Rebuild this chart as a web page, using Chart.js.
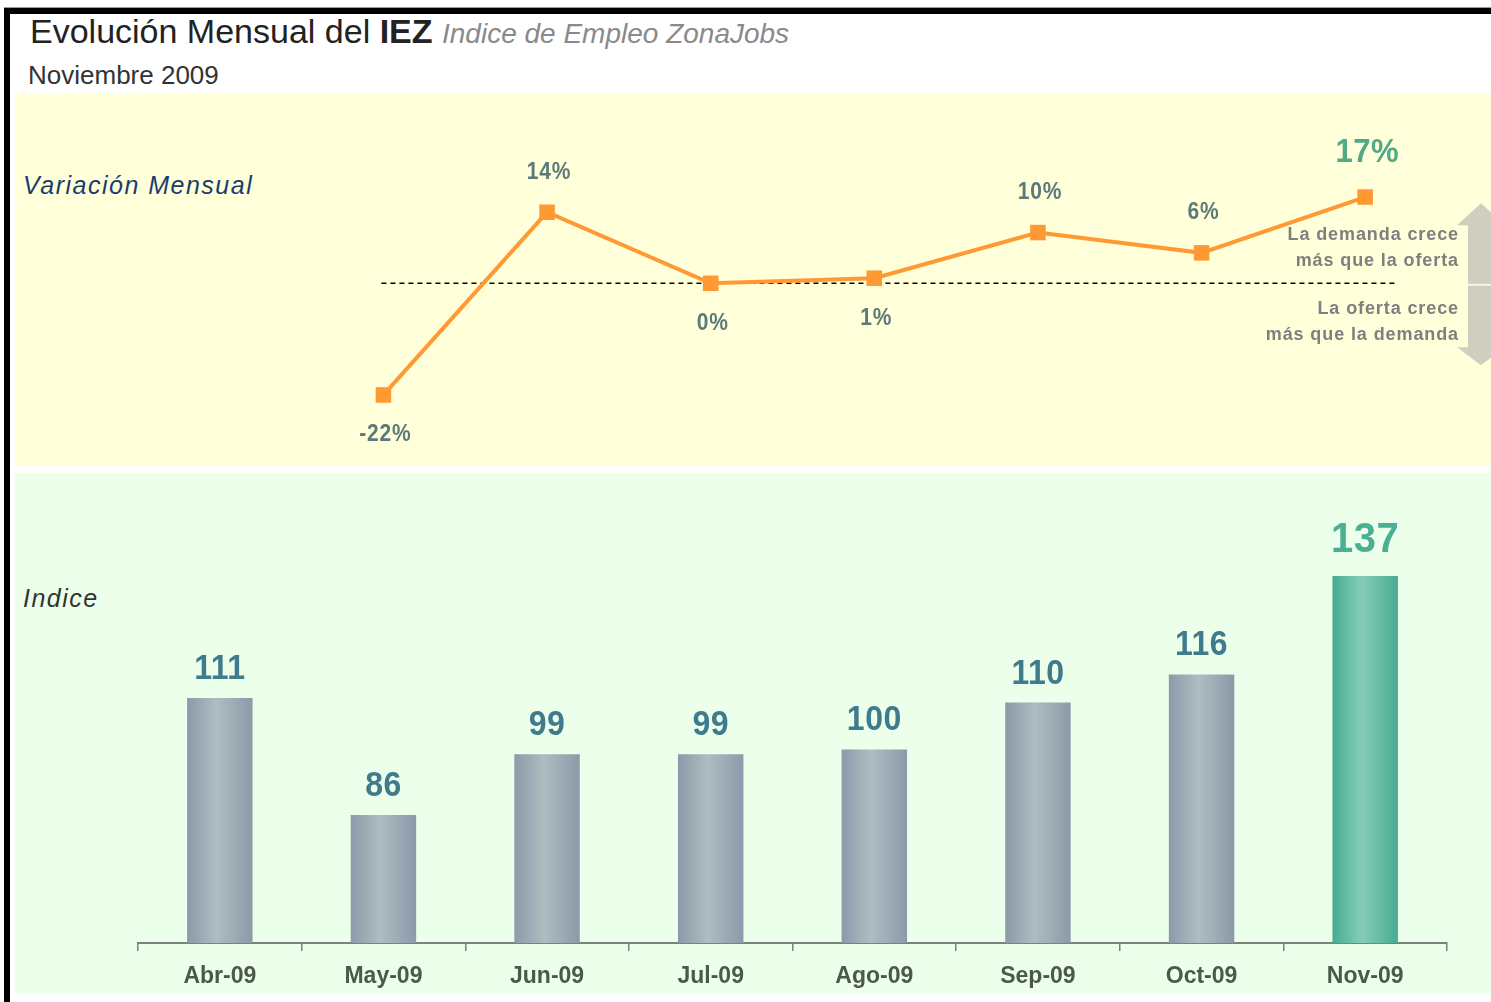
<!DOCTYPE html>
<html>
<head>
<meta charset="utf-8">
<script src="https://cdn.jsdelivr.net/npm/chart.js@4.4.0/dist/chart.umd.min.js"></script>
<style>
html,body{margin:0;padding:0;background:#fff;width:1491px;height:1002px;overflow:hidden;font-family:"Liberation Sans",Arial,sans-serif;}
.abs{position:absolute;white-space:nowrap;line-height:1;}
#topline{left:4px;top:7px;width:1487px;height:1px;background:#9a9a9a}
#topbar{left:4px;top:8px;width:1487px;height:6px;background:#000}
#leftbar{left:4px;top:8px;width:6px;height:994px;background:#000}
#yellow{left:15px;top:93px;width:1476px;height:373px;background:#FFFFDA}
#green{left:15px;top:473px;width:1476px;height:520px;background:#EBFFEB}
#title{left:30px;top:14px;font-size:34px;color:#222;}
#title b{font-weight:bold;}
#title i{font-size:28px;color:#8a8a8a;}
#sub{left:28px;top:62px;font-size:26px;color:#333;}
#varlab{left:23px;top:173px;font-size:25px;font-style:italic;color:#1A3D6E;letter-spacing:1.5px;}
#idxlab{left:23px;top:586px;font-size:25px;font-style:italic;color:#333;letter-spacing:1.5px;}
.note{right:32px;text-align:right;font-size:18px;font-weight:bold;color:#7f7f7f;letter-spacing:0.9px;line-height:26px;}
#wrapTop{left:0;top:93px;width:1491px;height:373px;}
#wrapBot{left:0;top:473px;width:1491px;height:520px;}
</style>
</head>
<body>
<div class="abs" id="yellow"></div>
<div class="abs" id="green"></div>
<div class="abs" id="topline"></div>
<div class="abs" id="topbar"></div>
<div class="abs" id="leftbar"></div>
<div class="abs" id="title">Evolución Mensual del <b>IEZ</b> <i>Indice de Empleo ZonaJobs</i></div>
<div class="abs" id="sub">Noviembre 2009</div>
<div class="abs" id="varlab">Variación Mensual</div>
<div class="abs" id="idxlab">Indice</div>
<div class="abs" id="wrapTop"><canvas id="cTop" width="1491" height="373"></canvas></div>
<div class="abs" id="wrapBot"><canvas id="cBot" width="1491" height="520"></canvas></div>
<div class="abs note" style="top:221px;">La demanda crece<br>más que la oferta</div>
<div class="abs note" style="top:295px;">La oferta crece<br>más que la demanda</div>
<script>
// ---- data ----
const months = ['Abr-09','May-09','Jun-09','Jul-09','Ago-09','Sep-09','Oct-09','Nov-09'];
const indexValues = [111, 86, 99, 99, 100, 110, 116, 137];
const changeMonths = ['May-09','Jun-09','Jul-09','Ago-09','Sep-09','Oct-09','Nov-09'];
const monthlyChange = [-22, 14, 0, 1, 10, 6, 17];

// ---- style ----
const highlightIndex = months.length - 1;
const lineLabelSide = ['below','above','below','below','above','above','above'];
const FONT = '"Liberation Sans", Arial, sans-serif';
const BAR_PCT = 0.4;

const lineData = months.map(m => {
  const k = changeMonths.indexOf(m);
  return k >= 0 ? monthlyChange[k] : null;
});

function drawStretched(ctx, text, x, y, sy) {
  ctx.save();
  ctx.translate(x, y);
  ctx.scale(1, sy);
  ctx.fillText(text, 0, 0);
  ctx.restore();
}

const topDecor = {
  id: 'topDecor',
  beforeDatasetsDraw(chart) {
    const ctx = chart.ctx, x = chart.scales.x, y = chart.scales.y;
    const yz = y.getPixelForValue(0);
    const step = x.getPixelForValue(1) - x.getPixelForValue(0);
    ctx.save();
    const cx = 1481;
    ctx.fillStyle = '#CFCFC0';
    ctx.beginPath();
    ctx.moveTo(cx, yz - 80);
    ctx.lineTo(cx + 24, yz - 58);
    ctx.lineTo(cx + 13, yz - 58);
    ctx.lineTo(cx + 13, yz + 64);
    ctx.lineTo(cx + 24, yz + 64);
    ctx.lineTo(cx, yz + 82);
    ctx.lineTo(cx - 24, yz + 64);
    ctx.lineTo(cx - 13, yz + 64);
    ctx.lineTo(cx - 13, yz - 58);
    ctx.lineTo(cx - 24, yz - 58);
    ctx.closePath();
    ctx.fill();
    ctx.strokeStyle = '#F4F4E4';
    ctx.lineWidth = 2;
    ctx.beginPath();
    ctx.moveTo(cx - 13, yz + 1.5); ctx.lineTo(1491, yz + 1.5);
    ctx.stroke();
    ctx.strokeStyle = '#000';
    ctx.lineWidth = 1.5;
    ctx.setLineDash([5, 4]);
    ctx.beginPath();
    const firstIdx = lineData.findIndex(v => v !== null);
    ctx.moveTo(x.getPixelForValue(firstIdx) - 2, yz);
    ctx.lineTo(x.getPixelForValue(months.length - 1) + step * 0.2, yz);
    ctx.stroke();
    ctx.restore();
  },
  afterDatasetsDraw(chart) {
    const ctx = chart.ctx;
    const meta = chart.getDatasetMeta(0);
    ctx.save();
    ctx.textAlign = 'center';
    ctx.textBaseline = 'middle';
    changeMonths.forEach((m, k) => {
      const i = months.indexOf(m);
      const pt = meta.data[i];
      const hl = i === highlightIndex;
      ctx.font = 'bold ' + (hl ? 31 : 21) + 'px ' + FONT;
      ctx.letterSpacing = hl ? '0.5px' : '0.8px';
      ctx.fillStyle = hl ? '#52A987' : '#5C7A7A';
      const off = hl ? 44 : 40;
      const yy = lineLabelSide[k] === 'above' ? pt.y - off : pt.y + off;
      drawStretched(ctx, monthlyChange[k] + '%', pt.x + 2, yy, 1.1);
    });
    ctx.restore();
  }
};

function barFill(context) {
  const chart = context.chart;
  const i = context.dataIndex;
  const hl = i === highlightIndex;
  const c = hl ? ['#48AB91', '#84CDB8', '#48AB91'] : ['#8C99AA', '#AEBDC0', '#8C99AA'];
  const xs = chart.scales && chart.scales.x;
  if (!xs || i === undefined) return c[0];
  const cx = xs.getPixelForValue(i);
  const half = (xs.width / months.length) * BAR_PCT / 2;
  if (!isFinite(cx) || !isFinite(half) || half <= 0) return c[0];
  const g = chart.ctx.createLinearGradient(cx - half, 0, cx + half, 0);
  g.addColorStop(0, c[0]); g.addColorStop(0.45, c[1]); g.addColorStop(1, c[2]);
  return g;
}

const barDecor = {
  id: 'barDecor',
  afterDatasetsDraw(chart) {
    const ctx = chart.ctx;
    ctx.save();
    ctx.textAlign = 'center';
    ctx.textBaseline = 'alphabetic';
    chart.getDatasetMeta(0).data.forEach((bar, i) => {
      const hl = i === highlightIndex;
      ctx.font = 'bold ' + (hl ? 40 : 32) + 'px ' + FONT;
      ctx.letterSpacing = '0.5px';
      ctx.fillStyle = hl ? '#4BAF94' : '#3F7B8D';
      drawStretched(ctx, String(indexValues[i]), bar.x, bar.y - (hl ? 24 : 19), 1.08);
    });
    ctx.restore();
  }
};

new Chart(document.getElementById('cTop'), {
  type: 'line',
  data: {
    labels: months,
    datasets: [{
      data: lineData,
      borderColor: '#FF9933',
      borderWidth: 4,
      pointStyle: 'rect',
      pointRadius: 11,
      pointBackgroundColor: '#FF9933',
      pointBorderColor: '#FF9933',
      pointBorderWidth: 0,
      tension: 0,
      clip: false
    }]
  },
  options: {
    responsive: false,
    animation: false,
    devicePixelRatio: 1,
    events: [],
    layout: { autoPadding: false, padding: { left: 138, right: 44, top: 0, bottom: 0 } },
    plugins: { legend: { display: false }, tooltip: { enabled: false } },
    scales: {
      x: { type: 'category', offset: true, display: false },
      y: { display: false, min: -36, max: 37.5 }
    }
  },
  plugins: [topDecor]
});

new Chart(document.getElementById('cBot'), {
  type: 'bar',
  data: {
    labels: months,
    datasets: [{
      data: indexValues,
      backgroundColor: barFill,
      borderWidth: 0,
      barPercentage: BAR_PCT,
      categoryPercentage: 1.0
    }]
  },
  options: {
    responsive: false,
    animation: false,
    devicePixelRatio: 1,
    events: [],
    layout: { autoPadding: false, padding: { left: 138, right: 44, top: 0, bottom: 0 } },
    plugins: { legend: { display: false }, tooltip: { enabled: false } },
    scales: {
      x: {
        offset: true,
        grid: { display: true, drawOnChartArea: false, drawTicks: true, tickLength: 8, color: '#7F7F7F', lineWidth: 1.5, offset: true },
        border: { display: true, color: '#7F7F7F', width: 2 },
        ticks: { color: '#4D584D', font: { family: FONT, weight: 'bold', size: 23 }, padding: 12, maxRotation: 0, autoSkip: false },
        afterFit: (a) => { a.height = 50; }
      },
      y: { display: false, min: 58.7, max: 159 }
    }
  },
  plugins: [barDecor]
});
</script>
</body>
</html>
